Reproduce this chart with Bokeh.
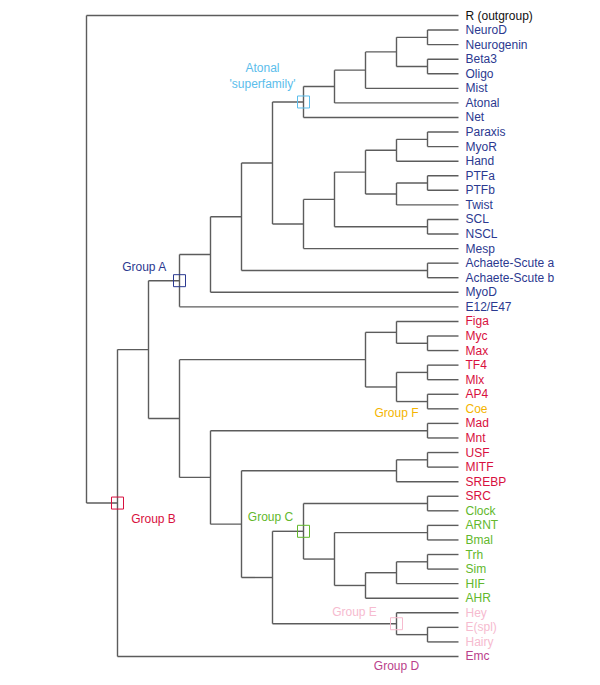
from bokeh.plotting import figure
from bokeh.models import Range1d, ColumnDataSource
from bokeh.core.properties import value
from bokeh.embed import file_html
from bokeh.resources import INLINE

# ---------------- data ----------------
leaves = ["R (outgroup)", "NeuroD", "Neurogenin", "Beta3", "Oligo", "Mist", "Atonal", "Net",
          "Paraxis", "MyoR", "Hand", "PTFa", "PTFb", "Twist", "SCL", "NSCL", "Mesp",
          "Achaete-Scute a", "Achaete-Scute b", "MyoD", "E12/E47",
          "Figa", "Myc", "Max", "TF4", "Mlx", "AP4", "Coe", "Mad", "Mnt",
          "USF", "MITF", "SREBP", "SRC", "Clock", "ARNT", "Bmal", "Trh", "Sim", "HIF", "AHR",
          "Hey", "E(spl)", "Hairy", "Emc"]
leaf_group = (["R"] + ["A"] * 20 + ["B"] * 6 + ["F"] + ["B"] * 6 + ["C"] * 7 + ["E"] * 3 + ["D"])

group_colors = {"R": "#111111", "A": "#2B3990", "B": "#D8103E", "C": "#62B82C",
                "D": "#BA3F8B", "E": "#F6BBCF", "F": "#F4B400", "S": "#5BBDEB"}

LEAF_LEVEL = 12
# internal node = [level, child, child]; leaves given by name
tree = [0, "R (outgroup)",
        [1,
         [2,
          [3,
           [4,
            [5,
             [6,
              [7, [8, [9, [10, [11, "NeuroD", "Neurogenin"], [11, "Beta3", "Oligo"]], "Mist"], "Atonal"], "Net"],
              [7, [8, [9, [10, [11, "Paraxis", "MyoR"], "Hand"], [10, [11, "PTFa", "PTFb"], "Twist"]],
                   [11, "SCL", "NSCL"]], "Mesp"]],
             [11, "Achaete-Scute a", "Achaete-Scute b"]],
            "MyoD"],
           "E12/E47"],
          [3,
           [9, [10, "Figa", [11, "Myc", "Max"]], [10, [11, "TF4", "Mlx"], [11, "AP4", "Coe"]]],
           [4, [11, "Mad", "Mnt"],
            [5, [10, [11, "USF", "MITF"], "SREBP"],
             [6, [7, [11, "SRC", "Clock"], [8, [11, "ARNT", "Bmal"], [9, [10, [11, "Trh", "Sim"], "HIF"], "AHR"]]],
              [10, "Hey", [11, "E(spl)", "Hairy"]]]]]]],
         "Emc"]]

# group marker boxes: path to node as child indices from the root
box_nodes = {"S": [2, 1, 1, 1, 1, 1, 1],            # Atonal 'superfamily'
             "A": [2, 1, 1],                         # Group A
             "B": [2],                               # Group B
             "C": [2, 1, 2, 2, 2, 2, 1],             # Group C
             "E": [2, 1, 2, 2, 2, 2, 2]}             # Group E

# ---------------- layout helpers ----------------
xs0, xs1, ys0, ys1 = [], [], [], []
leaf_pos = {n: i for i, n in enumerate(leaves)}


def layout(node):
    if isinstance(node, str):
        return LEAF_LEVEL, leaf_pos[node]
    lvl = node[0]
    kids = [layout(k) for k in node[1:]]
    ys = [k[1] for k in kids]
    y = (min(ys) + max(ys)) / 2.0
    xs0.append(lvl); xs1.append(lvl); ys0.append(min(ys)); ys1.append(max(ys))
    for kx, ky in kids:
        xs0.append(lvl); xs1.append(kx); ys0.append(ky); ys1.append(ky)
    return lvl, y


layout(tree)


def node_at(path):
    n = tree
    for i in path:
        n = n[i]
    return n


def node_xy(n):
    if isinstance(n, str):
        return LEAF_LEVEL, leaf_pos[n]
    ys = [node_xy(k)[1] for k in n[1:]]
    return n[0], (min(ys) + max(ys)) / 2.0


# ---------------- figure ----------------
W, H = 592, 677
px_per_level = 31.0
px_per_leaf = 14.568
root_px, top_px = 86, 15
x_range = Range1d(-root_px / px_per_level, (W - root_px) / px_per_level)
y_range = Range1d((H - top_px) / px_per_leaf, -top_px / px_per_leaf)

p = figure(width=W, height=H, x_range=x_range, y_range=y_range,
           output_backend="svg", toolbar_location=None, min_border=0,
           outline_line_color=None, background_fill_color="white", border_fill_color="white")
p.axis.visible = False
p.grid.visible = False

p.segment(x0=xs0, y0=ys0, x1=xs1, y1=ys1, line_color="#5c5c5c", line_width=1.4)

FONT = value("Liberation Sans")
src = ColumnDataSource(dict(x=[LEAF_LEVEL] * len(leaves), y=list(range(len(leaves))), t=leaves,
                            c=[group_colors[g] for g in leaf_group]))
p.text(x="x", y="y", text="t", text_color="c", source=src, x_offset=7,
       text_baseline="middle", text_align="left", text_font=FONT, text_font_size="12px")

# boxes at group nodes
bx, by, bc = [], [], []
for g, path in box_nodes.items():
    x, y = node_xy(node_at(path))
    bx.append(x); by.append(y); bc.append(group_colors[g])
p.rect(x=bx, y=by, width=12, height=12, width_units="screen", height_units="screen",
       fill_alpha=0, line_color=bc, line_width=1)


def glabel(txt, key, anchor_xy, dx, dy):
    p.text(x=[anchor_xy[0]], y=[anchor_xy[1]], text=[txt], x_offset=dx, y_offset=dy,
           text_color=group_colors[key], text_align="center", text_baseline="middle",
           text_font=FONT, text_font_size="12px")


sxy = node_xy(node_at(box_nodes["S"]))
glabel("Atonal", "S", sxy, -41, -34)
glabel("'superfamily'", "S", sxy, -41, -18)
glabel("Group A", "A", node_xy(node_at(box_nodes["A"])), -35, -14)
glabel("Group B", "B", node_xy(node_at(box_nodes["B"])), 36, 16)
glabel("Group C", "C", node_xy(node_at(box_nodes["C"])), -33, -14)
glabel("Group E", "E", node_xy(node_at(box_nodes["E"])), -42, -12)
glabel("Group F", "F", node_xy("Coe"), -62, 4)
glabel("Group D", "D", node_xy("Emc"), -62, 10)

open("out.html", "w").write(file_html(p, INLINE))
